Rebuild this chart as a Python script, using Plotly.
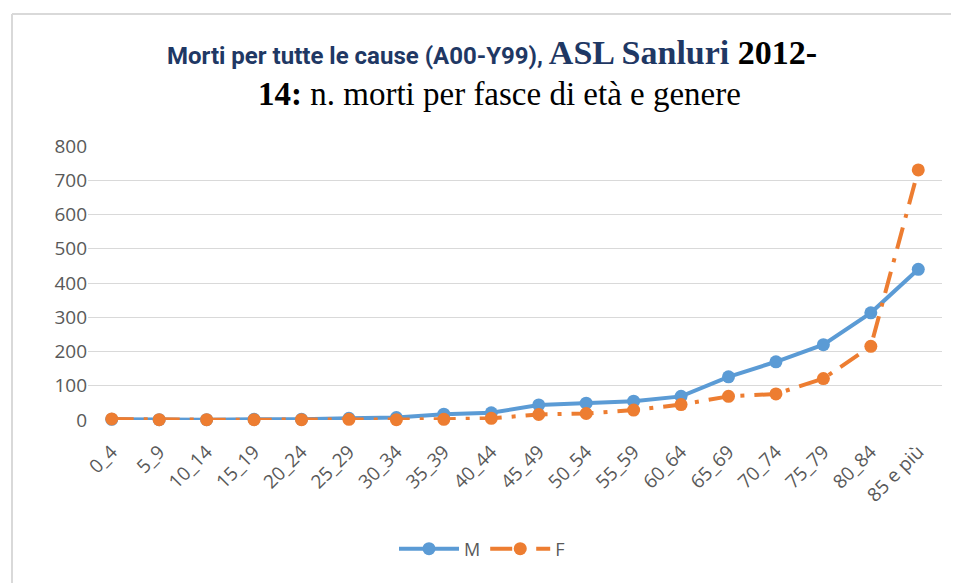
import plotly.graph_objects as go

categories = ["0_4", "5_9", "10_14", "15_19", "20_24", "25_29", "30_34", "35_39", "40_44",
              "45_49", "50_54", "55_59", "60_64", "65_69", "70_74", "75_79", "80_84", "85 e più"]
male = [2, 1, 1, 2, 2, 5, 7, 17, 21, 44, 49, 55, 69, 126, 170, 220, 313, 440]
female = [3, 1, 1, 1, 1, 2, 1, 2, 5, 16, 19, 29, 45, 69, 76, 121, 215, 730]
yticks = [0, 100, 200, 300, 400, 500, 600, 700, 800]

# page has an 8px body margin; work in page pixel coordinates
OFF = 8
W, H = 959 - OFF, 583 - OFF
PL, PR, PT, PB = 88, 942, 146, 420  # plot area in page pixels
L, R, T, B = PL - OFF, W - (PR - OFF), PT - OFF, H - (PB - OFF)
pw, ph = PR - PL, PB - PT

def px(x):
    return (x - PL) / pw

def py(y):
    return (PB - y) / ph

fig = go.Figure()
fig.add_trace(go.Scatter(
    x=categories, y=male, name="M", mode="lines+markers",
    line=dict(color="#5B9BD5", width=4),
    marker=dict(color="#5B9BD5", size=13),
    cliponaxis=False,
))
fig.add_trace(go.Scatter(
    x=categories, y=female, name="F", mode="lines+markers",
    line=dict(color="#ED7D31", width=4, dash="22px,10px,4px,10px"),
    marker=dict(color="#ED7D31", size=13),
    cliponaxis=False,
))

title_font = "Liberation Sans Narrow, Roboto, Arial"
serif = "Liberation Serif, Times New Roman, serif"
line1 = (f'<span style="font-family:{title_font};font-size:24px"><b>Morti per tutte le cause (A00-Y99), </b></span>'
         f'<span style="font-family:{serif};font-size:34px"><b>ASL Sanluri </b></span>'
         f'<span style="font-family:{serif};font-size:34px;fill:#000000"><b>2012-</b></span>')
line2 = (f'<span style="font-family:{serif}"><b>14:</b> n. morti per fasce di età e genere</span>')

fig.update_layout(
    width=W, height=H,
    margin=dict(l=L, r=R, t=T, b=B, autoexpand=False),
    paper_bgcolor="white", plot_bgcolor="white",
    font=dict(family="Open Sans, Arial", color="#595959", size=18),
    showlegend=True,
    legend=dict(orientation="h", x=px(482), xanchor="center", y=py(549), yanchor="middle",
                font=dict(size=18, color="#595959"), itemwidth=60),
    xaxis=dict(type="category", tickangle=-45, showgrid=False, zeroline=False,
               showline=False, ticks="", tickfont=dict(size=19, color="#595959"),
               ticklabelstandoff=16,
               range=[-0.5, len(categories) - 0.5], automargin=False),
    yaxis=dict(range=[0, 800], tickvals=yticks, showgrid=True, gridcolor="#D9D9D9",
               gridwidth=1, zeroline=False, showline=False, ticks="",
               tickfont=dict(size=19, color="#595959"), automargin=False),
    annotations=[
        dict(text=line1, xref="paper", yref="paper", x=px(492), y=py(52),
             xanchor="center", yanchor="middle", showarrow=False,
             font=dict(size=24, color="#1F3864")),
        dict(text=line2, xref="paper", yref="paper", x=px(499), y=py(94),
             xanchor="center", yanchor="middle", showarrow=False,
             font=dict(size=33, color="#000000")),
    ],
    shapes=[
        dict(type="line", xref="paper", yref="paper", x0=px(12), x1=px(12),
             y0=py(14), y1=py(600), line=dict(color="#D9D9D9", width=2)),
        dict(type="line", xref="paper", yref="paper", x0=px(12), x1=px(958),
             y0=py(14), y1=py(14), line=dict(color="#D9D9D9", width=2)),
    ],
)

fig.write_html("out.html")
